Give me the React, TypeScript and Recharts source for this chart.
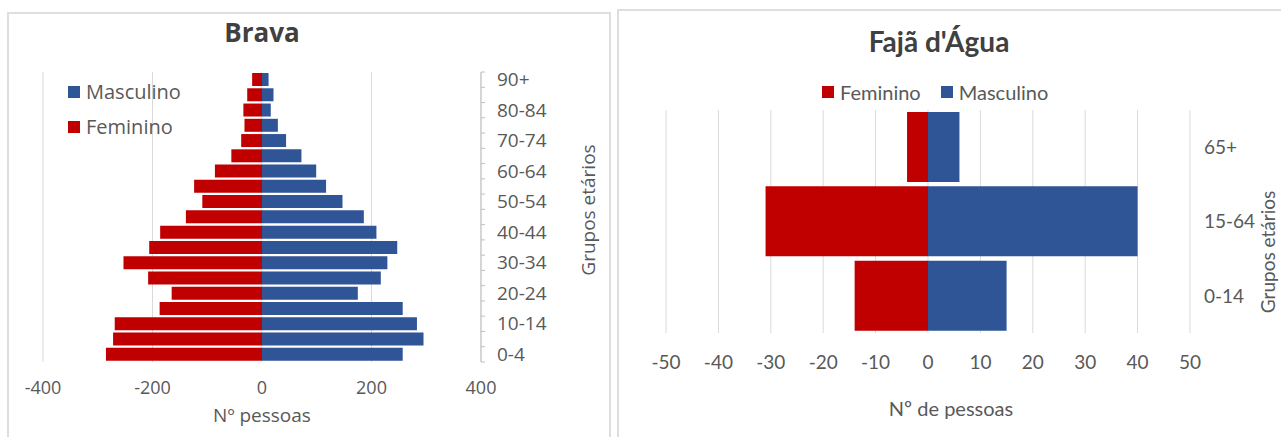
import React from "react";
import {
  BarChart,
  Bar,
  XAxis,
  YAxis,
  CartesianGrid,
} from "recharts";

// Brava - population by 5-year age group
const ageGroups = [
  "0-4", "5-9", "10-14", "15-19", "20-24", "25-29", "30-34", "35-39", "40-44",
  "45-49", "50-54", "55-59", "60-64", "65-69", "70-74", "75-79", "80-84",
  "85-89", "90+",
];
const bravaMasculino = [
  257, 295, 283, 257, 175, 217, 229, 247, 209, 186, 147, 117, 99, 72, 44, 29,
  16, 21, 12,
];
const bravaFeminino = [
  285, 272, 269, 187, 165, 208, 253, 206, 186, 139, 109, 124, 86, 56, 38, 32,
  34, 27, 18,
];
const bravaTicks = [-400, -200, 0, 200, 400];

// Fajã d'Água - broad age groups
const fajaGroups = ["0-14", "15-64", "65+"];
const fajaFeminino = [14, 31, 4];
const fajaMasculino = [15, 40, 6];
const fajaTicks = [-50, -40, -30, -20, -10, 0, 10, 20, 30, 40, 50];

const RED = "#C00000";
const BLUE = "#2F5597";
const TEXT = "#595959";
const GRID = "#d9d9d9";

const bravaData = ageGroups.map((grupo, i) => ({
  grupo,
  Feminino: -bravaFeminino[i],
  Masculino: bravaMasculino[i],
}));

const fajaData = fajaGroups.map((grupo, i) => ({
  grupo,
  Feminino: -fajaFeminino[i],
  Masculino: fajaMasculino[i],
}));

const BRAVA_TOP = 72;
const BRAVA_BOTTOM = 362;
const band = (BRAVA_BOTTOM - BRAVA_TOP) / ageGroups.length;

function BravaTick(props: any) {
  const { x, y, payload, index } = props;
  const axisX = x - 16;
  return (
    <g>
      <line x1={axisX} x2={axisX + 4} y1={y - band / 2} y2={y - band / 2} stroke="#bfbfbf" />
      {index === 0 && (
        <line x1={axisX} x2={axisX + 4} y1={y + band / 2} y2={y + band / 2} stroke="#bfbfbf" />
      )}
      {index % 2 === 0 && (
        <text
          x={x}
          y={y}
          dy="0.35em"
          textAnchor="start"
          fill={TEXT}
          fontSize={19}
          fontFamily="Open Sans"
        >
          {payload.value}
        </text>
      )}
    </g>
  );
}

function LegendItem({ color, label, font, size }: any) {
  return (
    <div style={{ display: "flex", alignItems: "center", fontFamily: font, fontSize: size, color: TEXT, lineHeight: "24px" }}>
      <span style={{ width: 12, height: 12, background: color, marginRight: 6, display: "inline-block" }} />
      {label}
    </div>
  );
}

export default function App() {
  return (
    <div
      style={{
        position: "absolute",
        left: 0,
        top: 0,
        width: 1281,
        height: 437,
        overflow: "hidden",
        background: "#fff",
      }}
    >
      {/* frames */}
      <div style={{ position: "absolute", left: 7, top: 12, width: 600, height: 440, border: "2px solid #dedede" }} />
      <div style={{ position: "absolute", left: 617, top: 9, width: 680, height: 440, border: "2px solid #dedede" }} />

      {/* Brava */}
      <div
        style={{
          position: "absolute",
          left: 162,
          width: 200,
          top: 14,
          textAlign: "center",
          fontFamily: "Open Sans",
          fontWeight: 700,
          fontSize: 26,
          color: "#404040",
        }}
      >
        Brava
      </div>
      <div style={{ position: "absolute", left: 0, top: 0 }}>
        <BarChart
          width={620}
          height={437}
          data={bravaData}
          layout="vertical"
          stackOffset="sign"
          barCategoryGap={1}
          margin={{ top: BRAVA_TOP, right: 69, bottom: 45, left: 43 }}
        >
          <CartesianGrid horizontal={false} stroke={GRID} />
          <XAxis
            type="number"
            domain={[-400, 400]}
            ticks={bravaTicks}
            axisLine={false}
            tickLine={false}
            tickMargin={13}
            height={30}
            tick={{ fill: TEXT, fontSize: 18, fontFamily: "Open Sans" }}
          />
          <YAxis
            type="category"
            dataKey="grupo"
            orientation="right"
            reversed
            width={70}
            interval={0}
            axisLine={{ stroke: "#bfbfbf" }}
            tickLine={false}
            tickSize={0}
            tickMargin={16}
            tick={<BravaTick />}
          />
          <Bar dataKey="Feminino" stackId="a" fill={RED} isAnimationActive={false} />
          <Bar dataKey="Masculino" stackId="a" fill={BLUE} isAnimationActive={false} />
        </BarChart>
      </div>
      <div style={{ position: "absolute", left: 68, top: 80 }}>
        <LegendItem color={BLUE} label="Masculino" font="Open Sans" size={20} />
        <div style={{ height: 11 }} />
        <LegendItem color={RED} label="Feminino" font="Open Sans" size={20} />
      </div>
      <div
        style={{
          position: "absolute",
          left: 162,
          width: 200,
          top: 402,
          textAlign: "center",
          fontFamily: "Open Sans",
          fontSize: 19,
          color: TEXT,
        }}
      >
        Nº pessoas
      </div>
      <div
        style={{
          position: "absolute",
          left: 588 - 100,
          top: 210 - 14,
          width: 200,
          height: 28,
          lineHeight: "28px",
          textAlign: "center",
          transform: "rotate(-90deg)",
          fontFamily: "Open Sans",
          fontSize: 19,
          color: TEXT,
        }}
      >
        Grupos etários
      </div>

      {/* Fajã d'Água */}
      <div
        style={{
          position: "absolute",
          left: 839,
          width: 200,
          top: 24,
          textAlign: "center",
          fontFamily: "Lato",
          fontWeight: 700,
          fontSize: 28,
          color: "#404040",
        }}
      >
        Fajã d'Água
      </div>
      <div style={{ position: "absolute", left: 620, top: 0 }}>
        <BarChart
          width={661}
          height={437}
          data={fajaData}
          layout="vertical"
          stackOffset="sign"
          barCategoryGap={2}
          margin={{ top: 110, right: 31, bottom: 74, left: 46 }}
        >
          <CartesianGrid horizontal={false} stroke={GRID} />
          <XAxis
            type="number"
            domain={[-50, 50]}
            ticks={fajaTicks}
            axisLine={false}
            tickLine={false}
            tickMargin={17}
            height={30}
            tick={{ fill: TEXT, fontSize: 19, fontFamily: "Lato" }}
          />
          <YAxis
            type="category"
            dataKey="grupo"
            orientation="right"
            reversed
            width={60}
            axisLine={false}
            tickLine={false}
            tickSize={0}
            tickMargin={14}
            tick={{ fill: TEXT, fontSize: 19, fontFamily: "Lato", textAnchor: "start" }}
          />
          <Bar dataKey="Feminino" stackId="a" fill={RED} isAnimationActive={false} />
          <Bar dataKey="Masculino" stackId="a" fill={BLUE} isAnimationActive={false} />
        </BarChart>
      </div>
      <div style={{ position: "absolute", left: 822, top: 80, display: "flex" }}>
        <LegendItem color={RED} label="Feminino" font="Lato" size={20} />
        <div style={{ width: 20 }} />
        <LegendItem color={BLUE} label="Masculino" font="Lato" size={20} />
      </div>
      <div
        style={{
          position: "absolute",
          left: 851,
          width: 200,
          top: 396,
          textAlign: "center",
          fontFamily: "Lato",
          fontSize: 20,
          color: TEXT,
        }}
      >
        Nº de pessoas
      </div>
      <div
        style={{
          position: "absolute",
          left: 1268 - 100,
          top: 252 - 12,
          width: 200,
          height: 24,
          lineHeight: "24px",
          textAlign: "center",
          transform: "rotate(-90deg)",
          fontFamily: "Lato",
          fontSize: 19,
          color: TEXT,
        }}
      >
        Grupos etários
      </div>
    </div>
  );
}
